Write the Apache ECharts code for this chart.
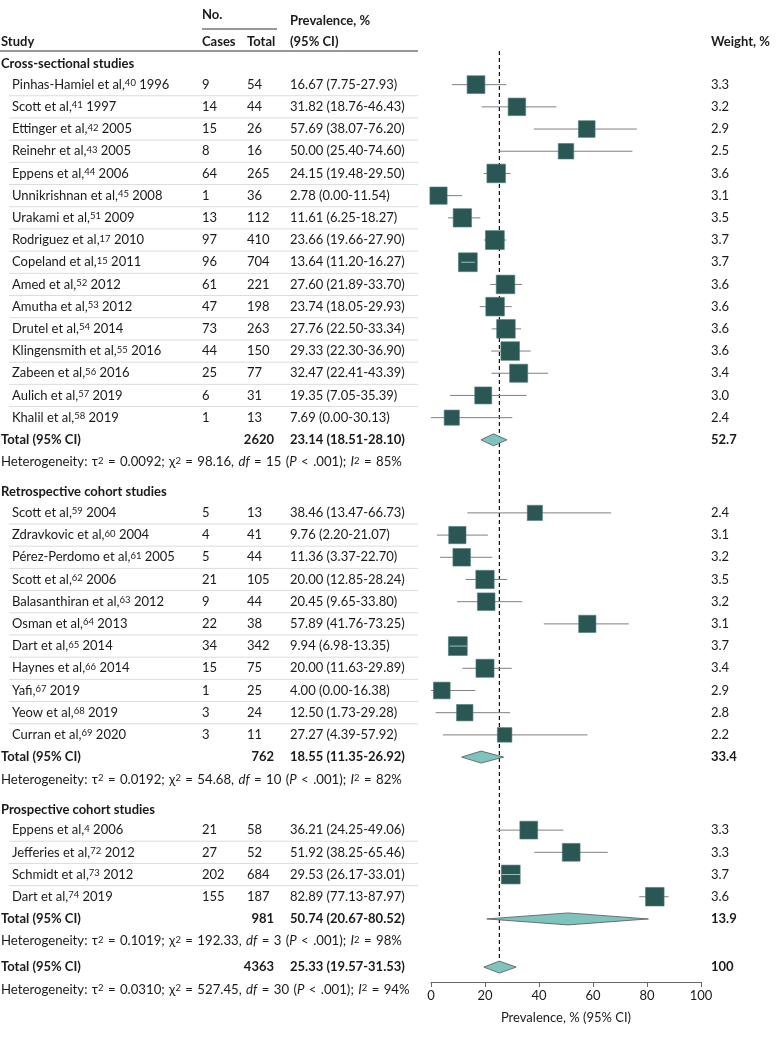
<!DOCTYPE html>
<html><head><meta charset="utf-8">
<script src="https://cdn.jsdelivr.net/npm/echarts@6/dist/echarts.min.js"></script>
<style>html,body{margin:0;padding:0;background:#fff}#c{width:783px;height:1040px}</style>
</head><body><div id="c"></div>
<script>
// ---- data: [name, ref, year, cases, total, prevalence, lo, hi, weight]
const crossSectional = [
  ['Pinhas-Hamiel et al,', '40', '1996', 9, 54, 16.67, 7.75, 27.93, 3.3],
  ['Scott et al,', '41', '1997', 14, 44, 31.82, 18.76, 46.43, 3.2],
  ['Ettinger et al,', '42', '2005', 15, 26, 57.69, 38.07, 76.20, 2.9],
  ['Reinehr et al,', '43', '2005', 8, 16, 50.00, 25.40, 74.60, 2.5],
  ['Eppens et al,', '44', '2006', 64, 265, 24.15, 19.48, 29.50, 3.6],
  ['Unnikrishnan et al,', '45', '2008', 1, 36, 2.78, 0.00, 11.54, 3.1],
  ['Urakami et al,', '51', '2009', 13, 112, 11.61, 6.25, 18.27, 3.5],
  ['Rodriguez et al,', '17', '2010', 97, 410, 23.66, 19.66, 27.90, 3.7],
  ['Copeland et al,', '15', '2011', 96, 704, 13.64, 11.20, 16.27, 3.7],
  ['Amed et al,', '52', '2012', 61, 221, 27.60, 21.89, 33.70, 3.6],
  ['Amutha et al,', '53', '2012', 47, 198, 23.74, 18.05, 29.93, 3.6],
  ['Drutel et al,', '54', '2014', 73, 263, 27.76, 22.50, 33.34, 3.6],
  ['Klingensmith et al,', '55', '2016', 44, 150, 29.33, 22.30, 36.90, 3.6],
  ['Zabeen et al,', '56', '2016', 25, 77, 32.47, 22.41, 43.39, 3.4],
  ['Aulich et al,', '57', '2019', 6, 31, 19.35, 7.05, 35.39, 3.0],
  ['Khalil et al,', '58', '2019', 1, 13, 7.69, 0.00, 30.13, 2.4]
];
const retrospective = [
  ['Scott et al,', '59', '2004', 5, 13, 38.46, 13.47, 66.73, 2.4],
  ['Zdravkovic et al,', '60', '2004', 4, 41, 9.76, 2.20, 21.07, 3.1],
  ['Pérez-Perdomo et al,', '61', '2005', 5, 44, 11.36, 3.37, 22.70, 3.2],
  ['Scott et al,', '62', '2006', 21, 105, 20.00, 12.85, 28.24, 3.5],
  ['Balasanthiran et al,', '63', '2012', 9, 44, 20.45, 9.65, 33.80, 3.2],
  ['Osman et al,', '64', '2013', 22, 38, 57.89, 41.76, 73.25, 3.1],
  ['Dart et al,', '65', '2014', 34, 342, 9.94, 6.98, 13.35, 3.7],
  ['Haynes et al,', '66', '2014', 15, 75, 20.00, 11.63, 29.89, 3.4],
  ['Yafi,', '67', '2019', 1, 25, 4.00, 0.00, 16.38, 2.9],
  ['Yeow et al,', '68', '2019', 3, 24, 12.50, 1.73, 29.28, 2.8],
  ['Curran et al,', '69', '2020', 3, 11, 27.27, 4.39, 57.92, 2.2]
];
const prospective = [
  ['Eppens et al,', '4', '2006', 21, 58, 36.21, 24.25, 49.06, 3.3],
  ['Jefferies et al,', '72', '2012', 27, 52, 51.92, 38.25, 65.46, 3.3],
  ['Schmidt et al,', '73', '2012', 202, 684, 29.53, 26.17, 33.01, 3.7],
  ['Dart et al,', '74', '2019', 155, 187, 82.89, 77.13, 87.97, 3.6]
];
const sectionTitles = ['Cross-sectional studies', 'Retrospective cohort studies', 'Prospective cohort studies'];
const sectionN = [2620, 762, 981];
const sectionEst = [23.14, 18.55, 50.74];
const sectionLo = [18.51, 11.35, 20.67];
const sectionHi = [28.10, 26.92, 80.52];
const sectionWeight = ['52.7', '33.4', '13.9'];
const sectionTau2 = ['0.0092', '0.0192', '0.1019'];
const sectionChi2 = ['98.16', '54.68', '192.33'];
const sectionDf = ['15', '10', '3'];
const sectionI2 = ['85', '82', '98'];
const overallN = 4363;
const overallCI = [25.33, 19.57, 31.53];
const overallWeight = '100';
const overallHet = ['0.0310', '527.45', '30', '94'];
const xTicks = [0, 20, 40, 60, 80, 100];

// ---- layout
const ROW = 22.2, Y0 = 64, AXIS_Y = 982, Y_MIN = -2.6;
const Y_MAX = (AXIS_Y - Y0) / ROW;
const FONT = 'Lato', TXT = '#1a1a1a', FS = 13, HFS = 13.2;
const X = {head: 1, study: 12, cases: 202, total: 247, totalEnd: 274, ci: 290, weight: 711, ruleEnd: 418};
const SP = '\u2004';

function makeRich(weight, fs) {
  return {
    sup: {fontFamily: FONT, fontSize: 9.5, fontWeight: weight, fill: TXT, verticalAlign: 'top'},
    it: {fontFamily: FONT, fontSize: fs, fontWeight: weight, fontStyle: 'italic', fill: TXT}
  };
}
const RICH_N = makeRich('normal', FS), RICH_B = makeRich('bold', FS), RICH_H = makeRich('normal', HFS);
const ci = (e, l, h) => e.toFixed(2) + ' (' + l.toFixed(2) + '-' + h.toFixed(2) + ')';
const hetText = (t, c, d, i) => ['Heterogeneity:', 'τ{sup|2}', '=', t + ';', 'χ{sup|2}', '=', c + ',', '{it|df}', '=', d,
  '({it|P}', '<', '.001);', '{it|I}{sup|2}', '=', i + '%'].join(SP);

// ---- rows
const rows = [];
let r = 0;
[crossSectional, retrospective, prospective].forEach((studies, si) => {
  if (si > 0) r += 1.36;
  rows.push({type: 'header', r, text: sectionTitles[si]});
  r += 0.93;
  studies.forEach((s, i) => {
    rows.push({type: 'study', r, s, last: i === studies.length - 1});
    r += 1;
  });
  rows.push({type: 'total', r, n: sectionN[si], est: sectionEst[si], lo: sectionLo[si], hi: sectionHi[si], w: sectionWeight[si]});
  r += 1;
  rows.push({type: 'het', r, text: hetText(sectionTau2[si], sectionChi2[si], sectionDf[si], sectionI2[si])});
});
r += 1.17;
rows.push({type: 'total', r, n: overallN, est: overallCI[0], lo: overallCI[1], hi: overallCI[2], w: overallWeight, overall: true});
const overallRow = r;
r += 1;
rows.push({type: 'het', r, text: hetText(overallHet[0], overallHet[1], overallHet[2], overallHet[3])});

function txt(x, y, text, o) {
  return {type: 'text', style: Object.assign({x, y, text, fontFamily: FONT, fontSize: FS, fill: TXT,
    align: 'left', verticalAlign: 'middle', rich: RICH_N}, o || {})};
}

function renderText(params, api) {
  const row = rows[params.dataIndex];
  const y = api.coord([0, row.r])[1];
  const k = [];
  if (row.type === 'header') {
    k.push(txt(X.head, y, row.text, {fontWeight: 'bold', rich: RICH_B}));
  } else if (row.type === 'study') {
    const s = row.s;
    k.push(txt(X.study, y, s[0] + '{sup|' + s[1] + '} ' + s[2]));
    k.push(txt(X.cases, y, String(s[3])));
    k.push(txt(X.total, y, String(s[4])));
    k.push(txt(X.ci, y, ci(s[5], s[6], s[7])));
    k.push(txt(X.weight, y, s[8].toFixed(1)));
    if (!row.last) {
      const ys = api.coord([0, row.r + 0.5])[1];
      k.push({type: 'line', shape: {x1: 9, y1: ys, x2: X.ruleEnd, y2: ys}, style: {stroke: '#dcdcdc', lineWidth: 1}});
    }
  } else if (row.type === 'total') {
    const b = {fontWeight: 'bold', rich: RICH_B};
    k.push(txt(X.head, y, 'Total (95% CI)', b));
    k.push(txt(X.totalEnd, y, String(row.n), Object.assign({align: 'right'}, b)));
    k.push(txt(X.ci, y, ci(row.est, row.lo, row.hi), b));
    k.push(txt(X.weight, y, row.w, b));
  } else if (row.type === 'het') {
    k.push(txt(X.head, y, row.text, {fontSize: HFS, rich: RICH_H}));
  }
  return {type: 'group', children: k};
}

const studyData = rows.filter(d => d.type === 'study').map(d => [d.s[5], d.r, d.s[6], d.s[7], d.s[8]]);
const diamondData = rows.filter(d => d.type === 'total').map(d => [d.est, d.r, d.lo, d.hi]);

function renderStudy(params, api) {
  const yv = api.value(1);
  const c = api.coord([api.value(0), yv]);
  const l = api.coord([api.value(2), yv]);
  const h = api.coord([api.value(3), yv]);
  const side = 9.8 * Math.sqrt(api.value(4));
  const narrow = (h[0] - l[0]) <= side + 1;
  const k = [];
  if (!narrow) k.push({type: 'line', shape: {x1: l[0], y1: c[1], x2: h[0], y2: c[1]}, style: {stroke: '#808080', lineWidth: 1}});
  k.push({type: 'rect', shape: {x: c[0] - side / 2, y: c[1] - side / 2, width: side, height: side},
    style: {fill: '#2a5653', stroke: '#4d7c78', lineWidth: 0.6}});
  if (narrow) k.push({type: 'line', shape: {x1: l[0], y1: c[1], x2: h[0], y2: c[1]}, style: {stroke: '#9fc0bc', lineWidth: 1}});
  return {type: 'group', children: k};
}

function renderDiamond(params, api) {
  const yv = api.value(1);
  const c = api.coord([api.value(0), yv]);
  const l = api.coord([api.value(2), yv]);
  const h = api.coord([api.value(3), yv]);
  const hh = 6;
  return {type: 'polygon', shape: {points: [[l[0], c[1]], [c[0], c[1] - hh], [h[0], c[1]], [c[0], c[1] + hh]]},
    style: {fill: '#7fc3be', stroke: '#555', lineWidth: 0.8}};
}

function renderRef(params, api) {
  const a = api.coord([api.value(0), api.value(1)]);
  const b = api.coord([api.value(0), api.value(2)]);
  return {type: 'line', shape: {x1: a[0], y1: a[1], x2: b[0], y2: b[1]},
    style: {stroke: '#111', lineWidth: 1.2, lineDash: [4, 3]}};
}

const chart = echarts.init(document.getElementById('c'), null, {renderer: 'canvas'});
const gridTop = Y0 + Y_MIN * ROW;
const hdr = (x, y, text) => ({type: 'text', style: {x, y, text, fontFamily: FONT, fontSize: FS, fontWeight: 'bold', fill: TXT, verticalAlign: 'middle'}});
chart.setOption({
  animation: false,
  backgroundColor: '#fff',
  grid: {left: 431, right: 82, top: gridTop, bottom: 1040 - AXIS_Y},
  xAxis: {
    type: 'value', min: xTicks[0], max: xTicks[xTicks.length - 1], interval: xTicks[1] - xTicks[0],
    position: 'bottom',
    axisLine: {show: true, onZero: false, lineStyle: {color: '#666', width: 1}},
    axisTick: {show: true, length: 5, lineStyle: {color: '#666'}},
    axisLabel: {color: TXT, fontFamily: FONT, fontSize: FS, margin: 7},
    splitLine: {show: false},
    name: 'Prevalence, % (95% CI)', nameLocation: 'middle', nameGap: 29,
    nameTextStyle: {color: TXT, fontFamily: FONT, fontSize: FS}
  },
  yAxis: {type: 'value', inverse: true, min: Y_MIN, max: Y_MAX, show: false, splitLine: {show: false}},
  graphic: [
    hdr(X.cases, 15, 'No.'),
    {type: 'line', shape: {x1: X.cases, y1: 29, x2: 277, y2: 29}, style: {stroke: '#333', lineWidth: 1}},
    hdr(X.head, 42, 'Study'),
    hdr(X.cases, 42, 'Cases'),
    hdr(X.total, 42, 'Total'),
    hdr(X.ci, 21, 'Prevalence, %'),
    hdr(X.ci, 42, '(95% CI)'),
    hdr(X.weight, 42, 'Weight, %'),
    {type: 'line', shape: {x1: 0, y1: 51, x2: X.ruleEnd, y2: 51}, style: {stroke: '#333', lineWidth: 1}}
  ],
  series: [
    {type: 'custom', name: 'ref', renderItem: renderRef, data: [[overallCI[0], -0.58, overallRow - 0.28]], z: 1, silent: true, clip: false},
    {type: 'custom', name: 'text', renderItem: renderText, data: rows.map(d => [0, d.r]), z: 2, silent: true, clip: false},
    {type: 'custom', name: 'studies', renderItem: renderStudy, data: studyData, z: 3, silent: true, clip: false},
    {type: 'custom', name: 'pooled', renderItem: renderDiamond, data: diamondData, z: 3, silent: true, clip: false}
  ]
});
</script></body></html>
